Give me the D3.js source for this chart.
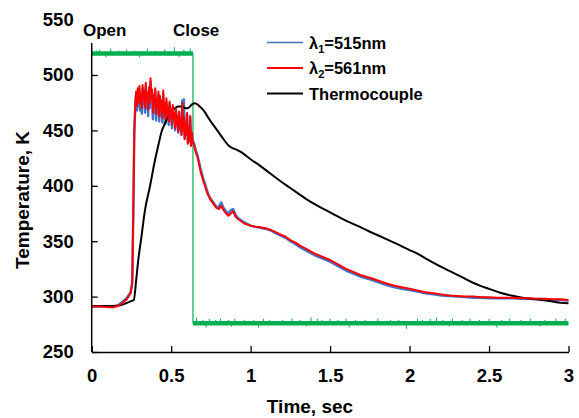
<!DOCTYPE html>
<html>
<head>
<meta charset="utf-8">
<script src="https://cdn.jsdelivr.net/npm/d3@7"></script>
<style>
  html, body { margin: 0; padding: 0; background: #fff; }
  svg { display: block; }
  text { font-family: "Liberation Sans", Arial, sans-serif; font-weight: bold; fill: #000; }
</style>
</head>
<body>
<svg id="chart" width="579" height="418"></svg>
<script>
// ---------------- DATA ----------------
const xTicks = [0, 0.5, 1, 1.5, 2, 2.5, 3];
const yTicks = [250, 300, 350, 400, 450, 500, 550];

// spectral pyrometer time base (s)
const specTime = [
  0, 0.05, 0.10, 0.14, 0.165, 0.19, 0.22, 0.245, 0.255, 0.262, 0.268, 0.275,
  0.280, 0.285, 0.290, 0.295, 0.300, 0.305, 0.310, 0.315, 0.320, 0.325,
  0.330, 0.335, 0.340, 0.345, 0.350, 0.355, 0.360, 0.365, 0.370, 0.375,
  0.380, 0.385, 0.390, 0.395, 0.400, 0.405, 0.410, 0.415, 0.420, 0.425,
  0.430, 0.435, 0.440, 0.445, 0.450, 0.455, 0.460, 0.465, 0.470, 0.475,
  0.480, 0.485, 0.490, 0.495, 0.500, 0.505, 0.510, 0.515, 0.520, 0.525,
  0.530, 0.535, 0.540, 0.545, 0.550, 0.555, 0.560, 0.565, 0.570, 0.575,
  0.580, 0.585, 0.590, 0.595, 0.600, 0.605, 0.610, 0.615, 0.620, 0.625,
  0.630, 0.635,
  0.645, 0.655, 0.665, 0.675, 0.685, 0.695, 0.705, 0.715, 0.725, 0.735,
  0.745, 0.755, 0.77, 0.785, 0.80, 0.815, 0.83, 0.845, 0.86, 0.875,
  0.89, 0.905, 0.92, 0.94, 0.96, 0.98, 1.00, 1.03, 1.06, 1.10,
  1.13, 1.16, 1.19, 1.22, 1.25, 1.28, 1.31, 1.35, 1.40, 1.45,
  1.50, 1.55, 1.60, 1.65, 1.70, 1.75, 1.80, 1.85, 1.90, 1.95,
  2.00, 2.05, 2.10, 2.15, 2.20, 2.25, 2.30, 2.35, 2.40, 2.45,
  2.50, 2.55, 2.60, 2.65, 2.70, 2.75, 2.80, 2.85, 2.90, 2.95, 3.00
];

// λ2 = 561 nm (red)
const lambda2 = [
  291, 291, 290.5, 290.5, 291.5, 294, 297.5, 303, 312, 380, 450, 478,
  485, 472, 488, 476, 490, 474, 483, 470, 491, 478,
  486, 471, 493, 476, 484, 469, 489, 475, 497, 480,
  487, 466, 482, 472, 488, 465, 479, 470, 485, 463,
  481, 468, 477, 461, 486, 466, 474, 460, 479, 465,
  471, 458, 476, 462, 469, 455, 473, 460, 466, 452,
  470, 456, 463, 449, 467, 452, 460, 446, 475, 450,
  462, 442, 456, 446, 466, 438, 452, 440, 463, 436,
  448, 440,
  436, 430, 426, 420, 413, 408, 403, 399, 394, 391,
  388, 386, 383, 380, 379, 382, 378, 375, 373, 375,
  377, 372, 370, 368, 366, 365, 364, 363, 362.5, 361.5,
  360, 358, 356, 354, 351, 349, 346, 343, 339, 336,
  333, 329, 325, 322, 319, 317, 314.5, 312, 310, 308.5,
  307, 305.5, 304, 303, 302, 301, 300.5, 300, 300, 299.5,
  299.5, 299, 299, 299, 298.5, 298.5, 298, 298, 297.5, 297.5, 297
];

// λ1 = 515 nm (blue)
const lambda1 = [
  291, 291, 291, 291, 292, 295, 298.5, 304, 313, 378, 447, 474,
  482, 468, 486, 472, 487, 468, 481, 465, 488, 474,
  484, 466, 490, 470, 481, 463, 486, 470, 494, 476,
  484, 460, 479, 466, 485, 459, 476, 465, 482, 458,
  478, 463, 474, 457, 483, 462, 471, 456, 476, 461,
  468, 455, 474, 459, 467, 452, 471, 458, 464, 450,
  468, 454, 462, 448, 466, 451, 460, 446, 477, 451,
  478, 443, 457, 447, 465, 439, 453, 441, 462, 437,
  448, 441,
  438, 432, 428, 422, 415, 410, 405, 401, 396, 392,
  389, 387, 384, 381, 381, 385, 380, 377, 375, 378,
  379, 374, 371, 369, 367, 365.5, 364, 363, 362, 361,
  359.5, 357, 355, 353, 350, 347.5, 344.5, 341.5, 337.5, 334.5,
  331.5, 327.5, 323.5, 320.5, 317.5, 315.5, 313, 310.5, 308.5, 307,
  306, 304.5, 303, 302, 301, 300.5, 300, 299.5, 299, 299,
  298.5, 298.5, 298.5, 298.5, 298, 298, 297.5, 297.5, 297, 297, 296.5
];

// thermocouple (black)
const tcTime = [
  0, 0.08, 0.16, 0.20, 0.24, 0.265, 0.28, 0.293, 0.313, 0.334, 0.366, 0.398,
  0.42, 0.44, 0.46, 0.48, 0.50, 0.52, 0.545, 0.57, 0.59, 0.61, 0.635,
  0.65, 0.68, 0.71, 0.74, 0.77, 0.80, 0.83, 0.86, 0.88, 0.92, 0.95, 1.00,
  1.06, 1.12, 1.18, 1.245, 1.30, 1.35, 1.42, 1.50, 1.58, 1.67, 1.75, 1.83,
  1.92, 2.00, 2.04, 2.10, 2.19, 2.26, 2.33, 2.40, 2.45, 2.50, 2.57, 2.64,
  2.71, 2.80, 2.88, 2.95, 3.00
];
const tcTemp = [
  291.5, 291.5, 291.7, 293, 295.5, 297, 315, 333, 354, 377, 399, 423,
  437, 449, 456, 462, 466, 469.5, 471.5, 471.5, 470, 470.5, 474,
  474.5, 471.5, 467, 460, 454, 448, 442, 436.5, 434.5, 432, 429.5, 424,
  418, 411.5, 405, 398.5, 393, 388, 382, 376, 370, 364, 358.5, 353.5,
  347.5, 342, 339.5, 334.5, 327.5, 322.5, 317.5, 312.5, 309.5, 307, 303.5, 301,
  299, 297.5, 296, 294.5, 294
];

// shutter signal (green): band levels and noise spikes
const shutterCloseTime = 0.637;
const shutterOpenLevel = 519.3;
const shutterClosedLevel = 276;
const openSpikes = [
  [0.03, 522], [0.05, 523], [0.09, 516], [0.12, 524], [0.17, 522], [0.22, 523],
  [0.27, 522], [0.30, 516], [0.35, 524], [0.40, 522], [0.46, 523], [0.52, 525],
  [0.55, 516], [0.58, 523], [0.62, 524]
];
const closedSpikes = [
  [0.66, 281], [0.70, 279], [0.72, 272], [0.74, 280], [0.78, 279], [0.81, 280],
  [0.86, 279], [0.88, 273], [0.90, 280], [0.96, 279], [1.02, 279], [1.05, 272],
  [1.08, 280], [1.12, 279], [1.20, 279], [1.26, 280], [1.31, 279], [1.35, 273],
  [1.38, 281], [1.42, 280], [1.45, 279], [1.50, 280], [1.55, 279], [1.60, 280],
  [1.62, 272], [1.66, 279], [1.72, 279], [1.80, 280], [1.88, 279], [1.93, 279],
  [1.98, 271], [2.05, 280], [2.08, 279], [2.13, 280], [2.17, 281], [2.21, 279],
  [2.25, 273], [2.27, 280], [2.33, 279], [2.38, 280], [2.44, 279], [2.50, 280],
  [2.55, 272], [2.58, 279], [2.63, 280], [2.70, 279], [2.76, 280], [2.82, 273],
  [2.85, 279], [2.92, 280], [2.98, 280]
];

const legendItems = [
  { label: "λ", sub: "1", rest: "=515nm", color: "#4472C4" },
  { label: "λ", sub: "2", rest: "=561nm", color: "#FF0000" },
  { label: "Thermocouple", sub: "", rest: "", color: "#000000" }
];

// ---------------- LAYOUT ----------------
const svg = d3.select("#chart");
const x = d3.scaleLinear().domain([0, 3]).range([91.7, 568.5]);
const y = d3.scaleLinear().domain([250, 550]).range([352, 19.6]);
const axisTop = 43;
const green = "#00B050";

const line = d3.line().x(d => x(d[0])).y(d => y(d[1]));

// shutter signal
const gGreen = svg.append("g").attr("fill", "none").attr("stroke", green);
gGreen.append("path").datum([[0, shutterOpenLevel], [shutterCloseTime, shutterOpenLevel]])
  .attr("d", line).attr("stroke-width", 4.5);
gGreen.append("path").datum([[shutterCloseTime, shutterClosedLevel], [3, shutterClosedLevel]])
  .attr("d", line).attr("stroke-width", 4.5);
gGreen.append("path").datum([[shutterCloseTime, shutterOpenLevel], [shutterCloseTime, shutterClosedLevel]])
  .attr("d", line).attr("stroke-width", 1.2);
openSpikes.forEach(s => gGreen.append("path")
  .datum([[s[0], shutterOpenLevel], s]).attr("d", line).attr("stroke-width", 1));
closedSpikes.forEach(s => gGreen.append("path")
  .datum([[s[0], shutterClosedLevel], s]).attr("d", line).attr("stroke-width", 1));

svg.append("path").datum(specTime.map((t, i) => [t, lambda1[i]])).attr("d", line)
  .attr("fill", "none").attr("stroke", "#4472C4").attr("stroke-width", 2.4)
  .attr("stroke-linejoin", "round");

svg.append("path").datum(tcTime.map((t, i) => [t, tcTemp[i]]))
  .attr("d", d3.line().curve(d3.curveMonotoneX).x(d => x(d[0])).y(d => y(d[1])))
  .attr("fill", "none").attr("stroke", "#000").attr("stroke-width", 2);

svg.append("path").datum(specTime.map((t, i) => [t, lambda2[i]])).attr("d", line)
  .attr("fill", "none").attr("stroke", "#FF0000").attr("stroke-width", 2)
  .attr("stroke-linejoin", "round");

// axes
const xAxis = d3.axisBottom(x).tickValues(xTicks).tickFormat(d3.format("")).tickSizeInner(-6).tickSizeOuter(0).tickPadding(17);
const gx = svg.append("g").attr("transform", `translate(0,${y(250)})`).call(xAxis);
gx.select(".domain").attr("stroke", "#000").attr("stroke-width", 1.5);
gx.selectAll(".tick line").attr("stroke", "#000").attr("stroke-width", 1.3);
gx.selectAll(".tick text").style("font-size", "18.5px").attr("font-family", null);

const yAxis = d3.axisLeft(y).tickValues(yTicks).tickSizeInner(-6).tickSizeOuter(0).tickPadding(18);
const gy = svg.append("g").attr("transform", `translate(${x(0)},0)`).call(yAxis);
gy.select(".domain").remove();
gy.append("line").attr("x1", 0).attr("x2", 0).attr("y1", y(250)).attr("y2", axisTop)
  .attr("stroke", "#000").attr("stroke-width", 1.5);
gy.selectAll(".tick line").attr("stroke", "#000").attr("stroke-width", 1.3)
  .filter(d => d === 550).remove();
gy.selectAll(".tick text").style("font-size", "18.5px").attr("font-family", null);

// axis titles
svg.append("text").attr("x", 310).attr("y", 413).attr("text-anchor", "middle")
  .style("font-size", "19px").text("Time, sec");
svg.append("text").attr("transform", "translate(29,200) rotate(-90)").attr("text-anchor", "middle")
  .style("font-size", "19px").text("Temperature, K");

// shutter annotations
svg.append("text").attr("x", 83).attr("y", 36).style("font-size", "17px").text("Open");
svg.append("text").attr("x", 173).attr("y", 36).style("font-size", "17px").text("Close");

// legend
const lg = svg.append("g");
legendItems.forEach((it, i) => {
  const yy = 42.5 + i * 25.5;
  lg.append("line").attr("x1", 267).attr("x2", 303).attr("y1", yy).attr("y2", yy)
    .attr("stroke", it.color).attr("stroke-width", i === 0 ? 1.6 : 2.2);
  const t = lg.append("text").attr("x", 309).attr("y", yy + 6).style("font-size", "16.5px");
  t.append("tspan").text(it.label);
  if (it.sub) {
    t.append("tspan").attr("dy", 4).style("font-size", "11px").text(it.sub);
    t.append("tspan").attr("dy", -4).text(it.rest);
  }
});
</script>
</body>
</html>
